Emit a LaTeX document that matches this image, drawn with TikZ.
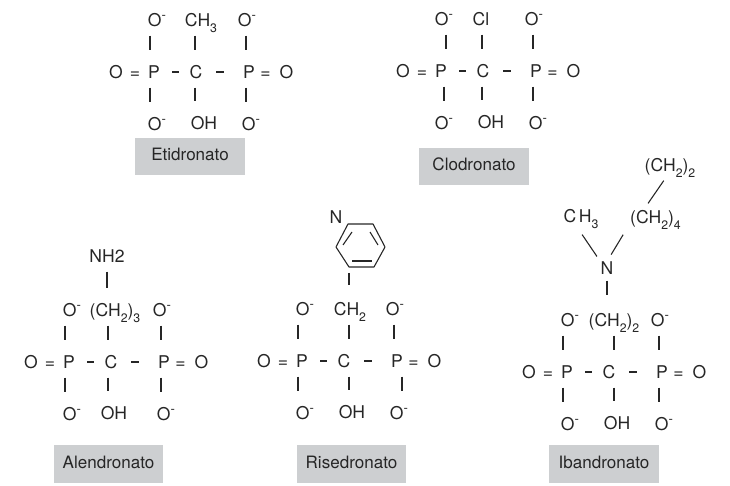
\documentclass[tikz,border=0pt]{standalone}
\usepackage{fontspec}
\setmainfont{TeX Gyre Heros}
\definecolor{inkc}{HTML}{262626}
\definecolor{boxc}{HTML}{CDCFD1}
\tikzset{
atom/.style={font=\fontsize{10}{12}\selectfont,inner sep=0pt,text height=7.1pt,text depth=0pt,text=inkc},
bond/.style={inkc,line width=0.62pt,shorten <=0.18cm,shorten >=0.3cm},
dash1/.style={inkc,line width=0.62pt,shorten <=0.24cm,shorten >=0.21cm},
dash2/.style={inkc,line width=0.62pt,shorten <=0.27cm,shorten >=0.38cm},
ring/.style={inkc,line width=0.62pt,line join=round},
namebox/.style={fill=boxc,text=inkc,minimum width=2.2cm,minimum height=0.75cm,inner sep=0pt,text height=7pt,text depth=2.2pt}
}
\newcommand{\Oneg}{O\raisebox{4pt}{\fontsize{7.5}{8}\selectfont -}}
\newcommand{\lowsub}[1]{\raisebox{-3.4pt}{\fontsize{7}{8}\selectfont #1}}
\newcommand{\ohx}{204}
% #1 name, #2 #3 shift, #4 group on C, #5 its x, #6 shift of the C bonds,
% #7 top left bond, #8 bottom left bond, #9 bottom right bond
\newcommand{\bisphos}[9]{
\begin{scope}[shift={(#2,#3)}]
\node[atom] (#1O0) at (116,72) {O};
\node[atom] (#1E1) at (135,72) {=};
\node[atom] (#1P1) at (154,72) {P};
\node[atom] (#1C) at (196,72) {C};
\node[atom] (#1P2) at (249,72) {P};
\node[atom] (#1E2) at (265.5,72) {=};
\node[atom] (#1O3) at (286.5,72) {O};
\node[atom] (#1T1) at (157,20) {\Oneg};
\node[atom] (#1S) at (#5,20) {#4};
\node[atom] (#1T2) at (247,20) {\Oneg};
\node[atom] (#1B1) at (157,124) {\Oneg};
\node[atom] (#1H) at (\ohx,123) {OH};
\node[atom] (#1B2) at (251,124) {\Oneg};
\draw[dash1] (#1P1) -- (#1C);
\draw[dash2] (#1C) -- (#1P2);
\draw[bond] ([xshift=#7*0.02cm]#1P1.north |- #1T1.south) -- ([xshift=#7*0.02cm]#1P1.north);
\draw[bond] ([xshift=#6*0.02cm]#1C.north |- #1S.south) -- ([xshift=#6*0.02cm]#1C.north);
\draw[bond] ([xshift=-0.06cm]#1P2.north |- #1T2.south) -- ([xshift=-0.06cm]#1P2.north);
\draw[bond] ([xshift=#8*0.02cm]#1P1.south) -- ([xshift=#8*0.02cm]#1P1.south |- #1B1.north);
\draw[bond] ([xshift=#6*0.02cm]#1C.south) -- ([xshift=#6*0.02cm]#1C.south |- #1H.north);
\draw[bond] ([xshift=#9*0.02cm]#1P2.south) -- ([xshift=#9*0.02cm]#1P2.south |- #1B2.north);
\end{scope}
}
\begin{document}
\begin{tikzpicture}[x=0.02cm,y=-0.02cm,every node/.style={font=\fontsize{9.7}{12}\selectfont}]
\useasboundingbox (0,0) rectangle (730,486);

\bisphos{et}{0}{0}{CH\lowsub{3}}{201}{-1}{-4}{-4}{-3}
\node[namebox] (etN) at (190,156.5) {Etidronato};

\bisphos{cl}{287}{-1}{Cl}{194}{-1}{5}{3}{-3}
\node[namebox] (clN) at (474,166.5) {Clodronato};

\renewcommand{\ohx}{199}
\bisphos{al}{-85}{290}{(CH\lowsub{2})\lowsub{3}}{200}{-3}{-4}{-4}{-3}
\renewcommand{\ohx}{204}
\node[atom] (alA) at (107,256) {NH2};
\draw[bond] (alA.south) -- (alA.south |- alS.north);
\node[namebox] (alN) at (108.5,464) {Alendronato};

\bisphos{ri}{148}{289}{CH\lowsub{2}}{202}{5}{-4}{-4}{5}
\coordinate (riR1) at (348,224);
\coordinate (riR2) at (373,224);
\coordinate (riR3) at (385,247);
\coordinate (riR4) at (374,267);
\coordinate (riR5) at (349,267);
\coordinate (riR6) at (336,247);
\draw[ring] (riR1) -- (riR2) -- (riR3) -- (riR4) -- (riR5) -- (riR6) -- cycle;
\draw[ring] (343,245) -- (352,232);
\draw[ring] (370,232) -- (378,245);
\draw[ring] (352,261) -- (372,261);
\node[atom] (riA) at (336,217) {N};
\draw[bond,shorten <=0.12cm,shorten >=0.34cm] (riR5) -- (riR5 |- riS.north);
\node[namebox] (riN) at (351.5,464) {Risedronato};

\bisphos{ib}{413}{300}{(CH\lowsub{2})\lowsub{2}}{201}{5}{-4}{-4}{-3}
\node[atom] (ibA) at (607,268) {N};
\node[atom] (ibM) at (581,216) {C\kern1.5pt H\lowsub{3}};
\node[atom] (ibL) at (655.5,217) {(CH\lowsub{2})\lowsub{4}};
\node[atom] (ibT) at (670,165) {(CH\lowsub{2})\lowsub{2}};
\draw[bond,shorten <=0.12cm,shorten >=0.36cm] (ibA.south) -- (ibA.south |- ibS.north);
\draw[bond,shorten <=0.29cm,shorten >=0.12cm] ([xshift=-4pt]ibM.south) -- (ibA.north west);
\draw[bond,shorten <=0.26cm,shorten >=0.16cm] (ibL.south west) -- (ibA.north);
\draw[bond,shorten <=0.22cm,shorten >=0.17cm] (ibT.south) -- ([xshift=-7pt]ibL.north);
\node[namebox] (ibN) at (604,464) {Ibandronato};
\end{tikzpicture}
\end{document}
